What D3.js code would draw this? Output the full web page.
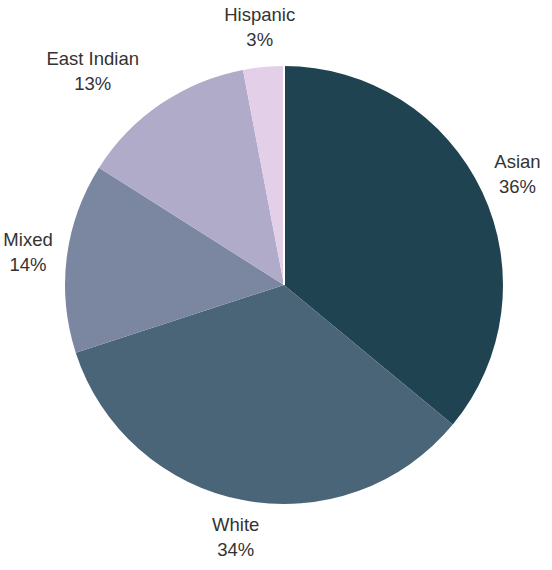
<!DOCTYPE html>
<html>
<head>
<meta charset="utf-8">
<script src="https://cdn.jsdelivr.net/npm/d3@7/dist/d3.min.js"></script>
<style>
  html, body { margin: 0; padding: 0; background: #ffffff; }
  svg { display: block; }
  text { font-family: "Liberation Sans", Arial, sans-serif; font-size: 18.5px; fill: #333333; }
</style>
</head>
<body>
<svg id="chart" width="552" height="570"></svg>
<script>
const categories = ["Asian", "White", "Mixed", "East Indian", "Hispanic"];
const values = [36, 34, 14, 13, 3];
const colors = ["#1f4350", "#4a6478", "#7b87a1", "#b0abc9", "#e3d0e8"];

const width = 552, height = 570;
const cx = 284, cy = 285, R = 219, labelR = 258;

const svg = d3.select("#chart");
const g = svg.append("g").attr("transform", `translate(${cx},${cy})`);

const data = categories.map((c, i) => ({ name: c, value: values[i], color: colors[i] }));
const pie = d3.pie().value(d => d.value).sort(null);
const arcs = pie(data);
const arc = d3.arc().innerRadius(0).outerRadius(R);
const labelArc = d3.arc().innerRadius(labelR).outerRadius(labelR);

g.selectAll("path.slice")
  .data(arcs)
  .enter().append("path")
  .attr("class", "slice")
  .attr("d", arc)
  .attr("fill", d => d.data.color);

// thin white separator at the start of the pie
g.append("line")
  .attr("x1", 0).attr("y1", 0)
  .attr("x2", R * Math.sin(arcs[0].startAngle))
  .attr("y2", -R * Math.cos(arcs[0].startAngle))
  .attr("stroke", "#ffffff").attr("stroke-width", 2);

const total = d3.sum(values);
g.selectAll("g.label")
  .data(arcs)
  .enter().append("g")
  .attr("class", "label")
  .each(function(d) {
    const [x, y] = labelArc.centroid(d);
    const mid = (d.startAngle + d.endAngle) / 2;
    const s = Math.sin(mid), c = Math.cos(mid);
    const t = d3.select(this).append("text")
      .attr("text-anchor", "middle")
      .attr("x", x).attr("y", y);
    const a = t.append("tspan").attr("x", x).attr("dy", "-0.38em").text(d.data.name);
    const b = t.append("tspan").attr("x", x).attr("dy", "1.35em")
      .text(Math.round(d.data.value / total * 100) + "%");
    // diagonal labels: place the block beside the anchor point
    if (Math.abs(s) < 0.9 && Math.abs(c) < 0.9) {
      const w = Math.max(a.node().getComputedTextLength(), b.node().getComputedTextLength());
      const nx = x + (s < 0 ? -w / 2 : w / 2);
      a.attr("x", nx); b.attr("x", nx);
    }
  });
</script>
</body>
</html>
